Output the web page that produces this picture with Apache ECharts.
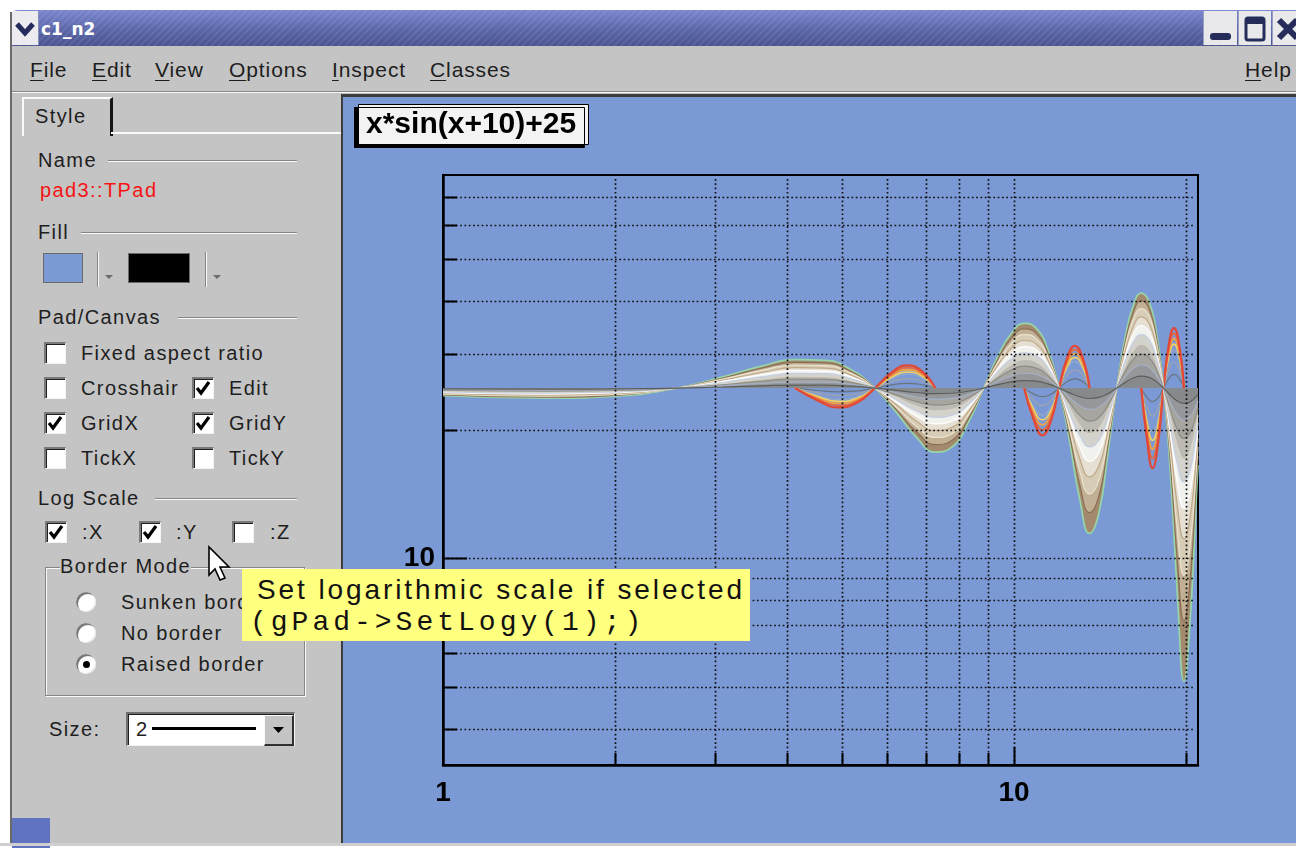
<!DOCTYPE html>
<html>
<head>
<meta charset="utf-8">
<title>c1_n2</title>
<script src="https://cdn.jsdelivr.net/npm/echarts@6/dist/echarts.min.js"></script>
<style>
  html, body { margin: 0; padding: 0; }
  body { width: 1296px; height: 852px; position: relative; overflow: hidden; background: #ffffff;
         font-family: "Liberation Sans", Arial, Helvetica, sans-serif; }
  #gui { position: absolute; left: 0; top: 0; width: 1296px; height: 852px; }
  #pad { position: absolute; left: 343px; top: 97px; width: 953px; height: 746px; }
  #overlay { position: absolute; left: 0; top: 0; width: 1296px; height: 852px; pointer-events: none; }
</style>
</head>
<body>
<div id="gui"></div>
<div id="pad"></div>
<div id="overlay"></div>
<script>
// ---------------------------------------------------------------
// Plotted data: the function family around x*sin(x+10)+25
// ---------------------------------------------------------------

// x positions shared by the nested band curves
const bandX = [1.0, 1.519, 2.042, 2.566, 3.090, 3.613, 4.137, 4.661, 5.184, 5.708,
  6.232, 6.755, 7.279, 7.803, 8.326, 8.850, 9.373, 9.897, 10.421, 10.944,
  11.468, 11.991, 12.515, 13.039, 13.562, 14.086, 14.610, 15.133, 15.657, 16.181,
  16.704, 17.228, 17.752, 18.274, 18.798, 19.322, 19.845, 20.369, 20.893, 21.0];

// outermost curve: x*sin(x+10)+25
const band100 = [24.00, 23.69, 23.98, 25.00, 26.55, 28.13, 29.14, 29.04, 27.59, 25.00,
  21.88, 19.15, 17.72, 18.24, 20.84, 25.00, 29.69, 33.57, 35.42, 34.48,
  30.73, 25.00, 18.74, 13.71, 11.44, 12.80, 17.70, 25.00, 32.83, 39.01,
  41.70, 39.92, 33.88, 25.00, 15.60, 8.27, 5.16, 7.36, 14.55, 16.51];
const band90 = [24.10, 23.82, 24.08, 25, 26.39, 27.82, 28.72, 28.63, 27.33, 25,
  22.20, 19.74, 18.45, 18.92, 21.25, 25, 29.22, 32.71, 34.38, 33.53,
  30.16, 25, 19.37, 14.84, 12.79, 14.02, 18.43, 25, 32.05, 37.61,
  40.03, 38.43, 32.99, 25, 16.54, 9.94, 7.14, 9.12, 15.60, 17.36];
const band80 = [24.20, 23.95, 24.18, 25, 26.24, 27.50, 28.31, 28.23, 27.07, 25,
  22.51, 20.32, 19.18, 19.59, 21.67, 25, 28.75, 31.86, 33.34, 32.58,
  29.59, 25, 19.99, 15.97, 14.15, 15.24, 19.16, 25, 31.26, 36.21,
  38.36, 36.94, 32.10, 25, 17.48, 11.61, 9.12, 10.89, 16.64, 18.21];
const band70 = [24.30, 24.08, 24.29, 25, 26.08, 27.19, 27.90, 27.83, 26.81, 25,
  22.82, 20.91, 19.91, 20.27, 22.09, 25, 28.28, 31.00, 32.30, 31.64,
  29.01, 25, 20.62, 17.10, 15.51, 16.46, 19.89, 25, 30.48, 34.81,
  36.69, 35.44, 31.21, 25, 18.42, 13.29, 11.11, 12.65, 17.69, 19.06];
const band60 = [24.40, 24.21, 24.39, 25, 25.93, 26.88, 27.48, 27.42, 26.56, 25,
  23.13, 21.49, 20.63, 20.95, 22.50, 25, 27.81, 30.14, 31.25, 30.69,
  28.44, 25, 21.25, 18.23, 16.86, 17.68, 20.62, 25, 29.70, 33.41,
  35.02, 33.95, 30.33, 25, 19.36, 14.96, 13.09, 14.42, 18.73, 19.91];
const band50 = [24.50, 24.34, 24.49, 25, 25.77, 26.57, 27.07, 27.02, 26.30, 25,
  23.44, 22.08, 21.36, 21.62, 22.92, 25, 27.34, 29.29, 30.21, 29.74,
  27.87, 25, 21.87, 19.35, 18.22, 18.90, 21.35, 25, 28.92, 32.01,
  33.35, 32.46, 29.44, 25, 20.30, 16.63, 15.08, 16.18, 19.78, 20.76];
const band40 = [24.60, 24.47, 24.59, 25, 25.62, 26.25, 26.66, 26.61, 26.04, 25,
  23.75, 22.66, 22.09, 22.30, 23.34, 25, 26.88, 28.43, 29.17, 28.79,
  27.29, 25, 22.50, 20.48, 19.58, 20.12, 22.08, 25, 28.13, 30.61,
  31.68, 30.97, 28.55, 25, 21.24, 18.31, 17.06, 17.94, 20.82, 21.60];
const band30 = [24.70, 24.61, 24.69, 25, 25.46, 25.94, 26.24, 26.21, 25.78, 25,
  24.07, 23.25, 22.82, 22.97, 23.75, 25, 26.41, 27.57, 28.13, 27.84,
  26.72, 25, 23.12, 21.61, 20.93, 21.34, 22.81, 25, 27.35, 29.20,
  30.01, 29.48, 27.66, 25, 22.18, 19.98, 19.05, 19.71, 21.87, 22.45];
const band20 = [24.80, 24.74, 24.80, 25, 25.31, 25.63, 25.83, 25.81, 25.52, 25,
  24.38, 23.83, 23.54, 23.65, 24.17, 25, 25.94, 26.71, 27.08, 26.90,
  26.15, 25, 23.75, 22.74, 22.29, 22.56, 23.54, 25, 26.57, 27.80,
  28.34, 27.98, 26.78, 25, 23.12, 21.65, 21.03, 21.47, 22.91, 23.30];
const band10 = [24.90, 24.87, 24.90, 25, 25.15, 25.31, 25.41, 25.40, 25.26, 25,
  24.69, 24.42, 24.27, 24.32, 24.58, 25, 25.47, 25.86, 26.04, 25.95,
  25.57, 25, 24.37, 23.87, 23.64, 23.78, 24.27, 25, 25.78, 26.40,
  26.67, 26.49, 25.89, 25, 24.06, 23.33, 23.02, 23.24, 23.96, 24.15];

// x positions of the counter-phase lobes (null = gap hidden behind the band)
const lobeX = [4.137, 4.530, 4.923, 5.315, 5.708, 6.101, 6.494, 6.886, 7.279, 8.85,
  10.420, 10.813, 11.206, 11.598, 11.991, 12.384, 12.777, 13.169, 13.562, 15.13,
  16.704, 17.096, 17.489, 17.882, 18.274, 18.667, 19.060, 19.452, 19.845];
const lobe50 = [25, 23.40, 22.54, 23.12, 25, 27.16, 28.25, 27.43, 25, null,
  25, 21.18, 19.40, 20.90, 25, 29.38, 31.39, 29.66, 25, null,
  25, 18.96, 16.26, 18.68, 25, 31.60, 34.53, 31.88, 25];
const lobe45 = [25, 23.56, 22.78, 23.31, 25, 26.94, 27.92, 27.19, 25, null,
  25, 21.56, 19.96, 21.31, 25, 28.94, 30.75, 29.19, 25, null,
  25, 19.56, 17.13, 19.31, 25, 30.94, 33.58, 31.19, 25];
const lobe40 = [25, 23.72, 23.03, 23.50, 25, 26.73, 27.60, 26.95, 25, null,
  25, 21.94, 20.52, 21.72, 25, 28.50, 30.11, 28.72, 25, null,
  25, 20.17, 18.00, 19.94, 25, 30.28, 32.62, 30.50, 25];
const lobe35 = [25, 23.88, 23.28, 23.68, 25, 26.51, 27.27, 26.70, 25, null,
  25, 22.32, 21.08, 22.13, 25, 28.06, 29.47, 28.26, 25, null,
  25, 20.77, 18.88, 20.58, 25, 29.62, 31.67, 29.81, 25];
const lobe30 = [25, 24.04, 23.52, 23.87, 25, 26.29, 26.95, 26.46, 25, null,
  25, 22.71, 21.64, 22.54, 25, 27.63, 28.83, 27.79, 25, null,
  25, 21.37, 19.75, 21.21, 25, 28.96, 30.72, 29.13, 25];
const lobe20 = [25, 24.36, 24.02, 24.25, 25, 25.86, 26.30, 25.97, 25, null,
  25, 23.47, 22.76, 23.36, 25, 26.75, 27.56, 26.86, 25, null,
  25, 22.58, 21.50, 22.47, 25, 27.64, 28.81, 27.75, 25];
const lobe10 = [25, 24.68, 24.51, 24.62, 25, 25.43, 25.65, 25.49, 25, null,
  25, 24.24, 23.88, 24.18, 25, 25.88, 26.28, 25.93, 25, null,
  25, 23.79, 23.25, 23.74, 25, 26.32, 26.91, 26.38, 25];

// axes: ranges, grid lines and labelled ticks
const xRange = [1, 21];
const yRange = [3.29, 78.7];
const xGridValues = [2, 3, 4, 5, 6, 7, 8, 9, 10, 20];
const yGridValues = [4, 5, 6, 7, 8, 9, 10, 20, 30, 40, 50, 60, 70];
const xTickLabels = [1, 10];
const yTickLabels = [10];
const baseline = 25;
const titleText = 'x*sin(x+10)+25';

// ---------------------------------------------------------------
// Window furniture (title bar, menu, style editor, tooltip)
// ---------------------------------------------------------------
const gui = document.getElementById('gui');
const overlay = document.getElementById('overlay');
function el(parent, css, text) {
  const e = document.createElement('div');
  e.style.cssText = 'position:absolute;' + css;
  if (text != null) e.textContent = text;
  parent.appendChild(e);
  return e;
}
const GRAY = '#c4c4c4';
const INK = '#1e1e1e';

// window body
el(gui, `left:10px;top:10px;width:1286px;height:836px;background:${GRAY};border-top-left-radius:7px;`);
el(gui, 'left:10px;top:12px;width:2px;height:834px;background:#6a6a6a;');
// title bar
el(gui, 'left:12px;top:10px;width:1284px;height:36px;border-top-left-radius:6px;' +
  'background:repeating-linear-gradient(135deg, rgba(255,255,255,0.07) 0 2px, rgba(0,0,0,0) 2px 5px),' +
  'linear-gradient(#7a86cf, #5b66a8 55%, #4a5490);');
const icon = el(gui, 'left:12px;top:11px;width:26px;height:34px;background:#ececf0;border-right:1px solid #8890b8;');
icon.innerHTML = '<svg width="26" height="34"><polyline points="5,13 13,22 21,13" fill="none" stroke="#252b5c" stroke-width="5" stroke-linejoin="miter"/></svg>';
el(gui, 'left:41px;top:17px;line-height:24px;font-family:"DejaVu Sans",sans-serif;font-weight:bold;font-size:17px;color:#ffffff;', 'c1_n2');
// window buttons
const bMin = el(gui, 'left:1203px;top:11px;width:33px;height:34px;background:#e9e9ec;border-left:1px solid #9aa0c0;');
bMin.innerHTML = '<svg width="33" height="34"><rect x="6" y="22" width="21" height="7" rx="3" fill="#262c5a"/></svg>';
const bMax = el(gui, 'left:1238px;top:11px;width:32px;height:34px;background:#e9e9ec;border-left:1px solid #9aa0c0;');
bMax.innerHTML = '<svg width="32" height="34"><rect x="7" y="7" width="18" height="22" rx="2" fill="none" stroke="#262c5a" stroke-width="3"/><rect x="7" y="7" width="18" height="6" fill="#262c5a"/></svg>';
const bClose = el(gui, 'left:1272px;top:11px;width:24px;height:34px;background:#e9e9ec;border-left:1px solid #9aa0c0;overflow:hidden;');
bClose.innerHTML = '<svg width="24" height="34"><path d="M6,9 L24,27 M24,9 L6,27" stroke="#262c5a" stroke-width="6"/></svg>';

// menu bar
function menu(x, text) {
  const e = el(gui, `left:${x}px;top:57px;line-height:26px;font-size:21px;letter-spacing:0.9px;color:${INK};white-space:nowrap;`);
  const u = document.createElement('span');
  u.style.cssText = 'text-decoration:underline;text-underline-offset:3px;text-decoration-thickness:1px;';
  u.textContent = text[0];
  e.appendChild(u);
  e.appendChild(document.createTextNode(text.slice(1)));
}
[[30, 'File'], [92, 'Edit'], [155, 'View'], [229, 'Options'], [332, 'Inspect'], [430, 'Classes'], [1245, 'Help']]
  .forEach(([x, t]) => menu(x, t));
el(gui, 'left:12px;top:91px;width:1284px;height:1px;background:#888888;');
el(gui, 'left:12px;top:92px;width:1284px;height:1px;background:#f6f6f6;');

// style editor panel
function label(x, cy, text, extra) {
  return el(gui, `left:${x}px;top:${cy - 12}px;line-height:24px;font-size:20px;letter-spacing:1.4px;color:${INK};white-space:nowrap;${extra || ''}`, text);
}
function etchH(x1, x2, y) {
  el(gui, `left:${x1}px;top:${y}px;width:${x2 - x1}px;height:1px;background:#858585;`);
  el(gui, `left:${x1}px;top:${y + 1}px;width:${x2 - x1}px;height:1px;background:#fafafa;`);
}
function etchV(x, y1, y2) {
  el(gui, `left:${x}px;top:${y1}px;width:1px;height:${y2 - y1}px;background:#858585;`);
  el(gui, `left:${x + 1}px;top:${y1}px;width:1px;height:${y2 - y1}px;background:#fafafa;`);
}
function checkbox(x, cy, checked) {
  const b = el(gui, `left:${x}px;top:${cy - 11}px;width:19px;height:19px;background:#ffffff;` +
    'border-top:2px solid #7a7a7a;border-left:2px solid #7a7a7a;border-right:1px solid #f4f4f4;border-bottom:1px solid #f4f4f4;' +
    'box-shadow:inset 1px 1px 0 #202020;');
  if (checked) b.innerHTML = '<svg width="19" height="19"><polyline points="3,9 7,14 15,3" fill="none" stroke="#000" stroke-width="3.2"/></svg>';
}
function radio(cx, cy, on) {
  const r = el(gui, `left:${cx - 10}px;top:${cy - 10}px;width:20px;height:20px;border-radius:50%;background:#ffffff;` +
    'box-shadow:inset 2px 2px 0 #7a7a7a, inset -1px -1px 0 #e8e8e8;');
  if (on) el(gui, `left:${cx - 3}px;top:${cy - 3}px;width:7px;height:7px;border-radius:50%;background:#000;`);
  return r;
}
function dropArrow(x, y) {
  const a = el(gui, `left:${x}px;top:${y}px;width:10px;height:6px;`);
  a.innerHTML = '<svg width="10" height="6"><path d="M1,1 L9,1 L5,5 Z" fill="#6c6c6c"/></svg>';
}

// tab
el(gui, 'left:22px;top:97px;width:86px;height:37px;border-left:2px solid #fafafa;border-top:2px solid #fafafa;border-right:3px solid #151515;');
label(35, 116, 'Style');
el(gui, 'left:111px;top:132px;width:230px;height:2px;background:#fafafa;');

label(38, 160, 'Name');
etchH(108, 297, 160);
label(40, 190, 'pad3::TPad', 'color:#f41414;');
label(38, 232, 'Fill');
etchH(81, 297, 232);
el(gui, 'left:43px;top:253px;width:38px;height:28px;background:#7b9ad6;border:1px solid #6a6a6a;');
etchV(97, 252, 287);
dropArrow(104, 266);
el(gui, 'left:128px;top:253px;width:60px;height:28px;background:#000000;border:1px solid #6a6a6a;');
etchV(205, 252, 287);
dropArrow(212, 266);

label(38, 317, 'Pad/Canvas');
etchH(178, 297, 317);
checkbox(44, 353, false); label(81, 353, 'Fixed aspect ratio');
checkbox(44, 388, false); label(81, 388, 'Crosshair');
checkbox(192, 388, true); label(229, 388, 'Edit');
checkbox(44, 423, true); label(81, 423, 'GridX');
checkbox(192, 423, true); label(229, 423, 'GridY');
checkbox(44, 458, false); label(81, 458, 'TickX');
checkbox(192, 458, false); label(229, 458, 'TickY');

label(38, 498, 'Log Scale');
etchH(155, 297, 498);
checkbox(45, 532, true); label(82, 532, ':X');
checkbox(139, 532, true); label(176, 532, ':Y');
checkbox(232, 532, false); label(270, 532, ':Z');

// Border Mode group
el(gui, 'left:45px;top:567px;width:258px;height:127px;border:1px solid #858585;box-shadow:1px 1px 0 #fafafa, inset 1px 1px 0 #fafafa;');
label(60, 566, ' Border Mode ', `background:${GRAY};`);
radio(86, 602, false); label(121, 602, 'Sunken border');
radio(86, 633, false); label(121, 633, 'No border');
radio(86, 664, true); label(121, 664, 'Raised border');

// Size combo
label(49, 729, 'Size:');
el(gui, 'left:126px;top:712px;width:166px;height:31px;background:#ffffff;border-top:2px solid #707070;border-left:2px solid #707070;border-right:1px solid #f4f4f4;border-bottom:1px solid #f4f4f4;box-shadow:inset 1px 1px 0 #202020;');
label(136, 729, '2');
el(gui, 'left:152px;top:727px;width:104px;height:3px;background:#000;');
const btn = el(gui, `left:264px;top:715px;width:27px;height:28px;background:${GRAY};border-top:1px solid #fafafa;border-left:1px solid #fafafa;border-right:2px solid #303030;border-bottom:2px solid #303030;`);
btn.innerHTML = '<svg width="27" height="28"><path d="M8,11 L19,11 L13.5,17 Z" fill="#000"/></svg>';

// bottom strip and pad edges
el(gui, 'left:12px;top:818px;width:38px;height:30px;background:#5f73c0;');
el(gui, 'left:0px;top:843px;width:1296px;height:3px;background:#cfcfcf;');
el(gui, 'left:341px;top:94px;width:955px;height:3px;background:#3c3c3c;');
el(gui, 'left:341px;top:94px;width:2px;height:749px;background:#3c3c3c;');

// tooltip and pointer
el(overlay, 'left:242px;top:569px;width:508px;height:72px;background:#ffff80;');
el(overlay, 'left:257px;top:574px;line-height:32px;font-size:28px;letter-spacing:2.9px;color:#111;white-space:nowrap;', 'Set logarithmic scale if selected');
el(overlay, 'left:250px;top:607px;line-height:32px;font-family:"Liberation Mono","DejaVu Sans Mono",monospace;font-size:28px;letter-spacing:4px;color:#111;white-space:nowrap;', '(gPad->SetLogy(1);)');
const cur = el(overlay, 'left:207px;top:545px;width:30px;height:40px;');
cur.innerHTML = '<svg width="30" height="40"><path d="M2,2 L2,30 L8,24 L13,35 L18,33 L13,22 L22,22 Z" fill="#ffffff" stroke="#000" stroke-width="1.6" stroke-linejoin="miter"/></svg>';

// ---------------------------------------------------------------
// Chart
// ---------------------------------------------------------------
const bandData = [band100, band90, band80, band70, band60, band50, band40, band30, band20, band10];
const bandLine = ['#96d6a6', '#8a6f55', '#ebe3cf', '#bfa888', '#ffffff', '#c4cfe4', '#d8d4c8', '#8e8c86', '#a4b0c4', '#5a5f5c'];
const bandFill = ['#a38a6f', '#c2b094', '#d7ccb5', '#e6e0d4', '#f1f1ee', '#d3d2cc', '#bcbab3', '#a6a59f', '#96979a', '#868a8c'];

const lobeData = [lobe10, lobe20, lobe30, lobe35, lobe40, lobe45, lobe50];
const lobeLine = ['#6a747e', '#a2a5a8', '#92a8cc', '#f2d466', '#f0a246', '#e8683e', '#e04838'];
const lobeWidth = [1.2, 1.2, 1.4, 1.6, 1.8, 1.8, 2.2];

const series = [];
lobeData.forEach((vals, i) => {
  series.push({
    type: 'line', data: lobeX.map((x, j) => [x, vals[j] == null ? null : vals[j]]),
    smooth: 0.5, showSymbol: false, connectNulls: false, silent: true,
    lineStyle: { color: lobeLine[i], width: lobeWidth[i] }
  });
});
bandData.forEach((vals, i) => {
  series.push({
    type: 'line', data: bandX.map((x, j) => [x, vals[j]]),
    smooth: 0.5, showSymbol: false, silent: true,
    lineStyle: { color: bandLine[i], width: i === 0 ? 1.7 : 1.2 },
    areaStyle: { color: bandFill[i], opacity: 1, origin: baseline }
  });
});

const dotted = { stroke: '#101010', lineWidth: 1.7, lineDash: [1.7, 2.6] };
series.push({
  type: 'custom', z: 5, silent: true, clip: false,
  data: xGridValues.map(v => [v, baseline]),
  renderItem(params, api) {
    const cs = params.coordSys;
    const v = api.value(0);
    const px = Math.round(api.coord([v, baseline])[0]) + 0.5;
    const len = v === 10 ? 18 : 12;
    return { type: 'group', children: [
      { type: 'line', shape: { x1: px, y1: cs.y + 4, x2: px, y2: cs.y + cs.height }, style: dotted },
      { type: 'line', shape: { x1: px, y1: cs.y + cs.height, x2: px, y2: cs.y + cs.height - len }, style: { stroke: '#000', lineWidth: 2 } }
    ] };
  }
});
series.push({
  type: 'custom', z: 5, silent: true, clip: false,
  data: yGridValues.map(v => [xRange[0], v]),
  renderItem(params, api) {
    const cs = params.coordSys;
    const v = api.value(1);
    const py = Math.round(api.coord([xRange[0], v])[1]) + 0.5;
    const len = v === 10 ? 24 : 14;
    return { type: 'group', children: [
      { type: 'line', shape: { x1: cs.x, y1: py, x2: cs.x + cs.width - 4, y2: py }, style: dotted },
      { type: 'line', shape: { x1: cs.x, y1: py, x2: cs.x + len, y2: py }, style: { stroke: '#000', lineWidth: 2 } }
    ] };
  }
});

function tickFormatter(list) {
  return v => {
    const hit = list.find(t => Math.abs(t - v) < 1e-6 * t);
    return hit == null ? '' : String(hit);
  };
}
const axisFont = { color: '#000', fontFamily: '"Liberation Sans", Arial, sans-serif', fontWeight: 'bold', fontSize: 28 };

const chart = echarts.init(document.getElementById('pad'), null, { renderer: 'canvas' });
chart.setOption({
  animation: false,
  backgroundColor: '#7b9ad5',
  title: {
    text: titleText, left: 15, top: 7,
    padding: [6, 13, 5, 8],
    backgroundColor: '#f3f3f3', borderColor: '#000', borderWidth: 1,
    shadowColor: '#000', shadowBlur: 0, shadowOffsetX: -4, shadowOffsetY: 3,
    textStyle: { color: '#000', fontFamily: '"Liberation Sans", Arial, sans-serif', fontWeight: 'bold', fontSize: 30 }
  },
  grid: {
    left: 100, top: 78, width: 755, height: 590,
    show: true, borderColor: '#000', borderWidth: 2, backgroundColor: 'transparent',
    containLabel: false, outerBoundsMode: 'none'
  },
  xAxis: {
    type: 'log', logBase: 10, min: xRange[0], max: xRange[1],
    axisLine: { show: true, lineStyle: { color: '#000', width: 2.5 } },
    axisTick: { show: false }, splitLine: { show: false },
    axisLabel: Object.assign({ margin: 14, formatter: tickFormatter(xTickLabels), showMinLabel: true, showMaxLabel: false }, axisFont)
  },
  yAxis: {
    type: 'log', logBase: 10, min: yRange[0], max: yRange[1],
    axisLine: { show: true, lineStyle: { color: '#000', width: 2.5 } },
    axisTick: { show: false }, splitLine: { show: false },
    axisLabel: Object.assign({ margin: 8, formatter: tickFormatter(yTickLabels), showMinLabel: false, showMaxLabel: false }, axisFont)
  },
  series
});
</script>
</body>
</html>
